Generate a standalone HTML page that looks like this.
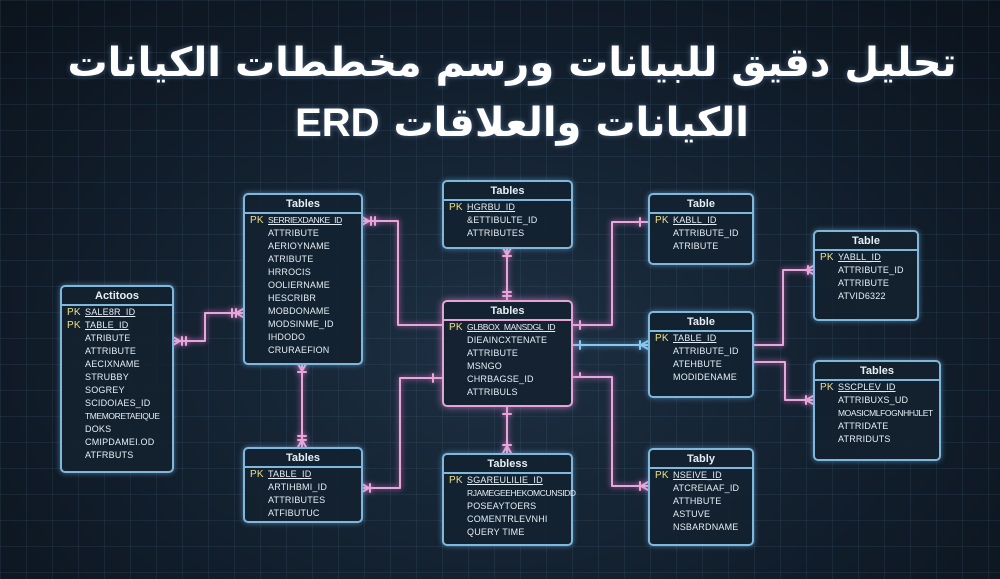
<!DOCTYPE html>
<html><head><meta charset="utf-8"><style>
*{margin:0;padding:0;box-sizing:border-box}
body{width:1000px;height:579px;overflow:hidden;background:#0e1824;position:relative;font-family:"Liberation Sans",sans-serif}
.bg{position:absolute;inset:0;background:
linear-gradient(rgba(90,130,160,.13) 1px,transparent 1px) 0 0/26px 26px,
linear-gradient(90deg,rgba(90,130,160,.13) 1px,transparent 1px) 0 0/26px 26px,
radial-gradient(ellipse at 50% 60%,#1d3044 0%,#111d2a 60%,#0b131c 100%)}
h1{position:absolute;left:0;width:1000px;text-align:center;color:#fff;font-family:"DejaVu Sans",sans-serif;font-weight:bold;font-size:40px;line-height:60px;direction:rtl;white-space:nowrap;text-shadow:0 0 6px rgba(160,200,255,.4)}
.t{position:absolute;border:2px solid #7fb8dd;border-radius:5px;background:rgba(20,34,48,.92);box-shadow:0 0 6px rgba(120,190,240,.55);color:#e6eef5}
.t.p{border-color:#e4a4d6;box-shadow:0 0 8px rgba(230,140,210,.7)}
.h{height:19px;border-bottom:2px solid #7fb8dd;text-align:center;font-weight:bold;font-size:11px;line-height:18px}
.p .h{border-bottom-color:#e4a4d6}
.r{font-size:9px;line-height:13px;padding-left:23px;position:relative;white-space:nowrap;letter-spacing:.2px}
.r:first-of-type{margin-top:4px}
.s{letter-spacing:-.4px;font-size:8.5px}
.k{position:absolute;left:5px;color:#e8e08a;font-size:10px}
.u{text-decoration:underline}
svg{position:absolute;left:0;top:0}
</style></head><body>
<div class="bg"></div>
<h1 style="top:33px;left:12px">تحليل دقيق للبيانات ورسم مخططات الكيانات</h1>
<h1 style="top:93px;left:22px">الكيانات والعلاقات <span dir="ltr" style="font-family:'Liberation Sans',sans-serif">ERD</span></h1>
<svg width="1000" height="579" fill="none" stroke-linecap="round" stroke-linejoin="round">
<g stroke="#e9a6d8" stroke-width="2" style="filter:drop-shadow(0 0 3px #d070c0)">
<path d="M173 341H205V313H243"/>
<path d="M362 221H398V325H442"/>
<path d="M302 364V447"/>
<path d="M442 378H400V488H362"/>
<path d="M507 248V300"/>
<path d="M507 406V453"/>
<path d="M572 325H612V222H648"/>
<path d="M572 377H612V486H648"/>
<path d="M753 345H783V270H813"/>
<path d="M753 362H785V400H813"/>
<path d="M182 337V345M186 337V345M236 309V317M232 309V317M371 217V225M375 217V225M298 372H306M298 440H306M298 436H306M370 484V492M503 256H511M503 292H511M503 296H511M503 414H511M503 445H511M580 321V329M640 218V226M580 373V377M640 482V490M808 266V274M806 396V404M433 374V382M452 321V329"/>
<path d="M173 337L180 341L173 345M243 309L236 313L243 317M362 217L369 221L362 225M298 447L302 440L306 447M362 484L369 488L362 492M503 453L507 446L511 453M648 482L641 486L648 490M813 266L806 270L813 274M813 396L806 400L813 404M298 364L302 371L306 364M503 248L507 255L511 248"/>
</g>
<g stroke="#8cc8ee" stroke-width="2" style="filter:drop-shadow(0 0 3px #5aa8e0)">
<path d="M572 345H648M580 341V349M640 341V349M648 341L641 345L648 349"/>
</g>
</svg>

<div class="t" style="left:60px;top:285px;width:114px;height:188px"><div class="h">Actitoos</div>
<div class="r"><span class="k">PK</span><span class="u">SALE8R_ID</span></div>
<div class="r"><span class="k">PK</span><span class="u">TABLE_ID</span></div>
<div class="r">ATRIBUTE</div><div class="r">ATTRIBUTE</div><div class="r">AECIXNAME</div><div class="r">STRUBBY</div><div class="r">SOGREY</div><div class="r">SCIDOIAES_ID</div><div class="r s">TMEMORETAEIQUE</div><div class="r">DOKS</div><div class="r">CMIPDAMEI.OD</div><div class="r">ATFRBUTS</div></div>

<div class="t" style="left:243px;top:193px;width:120px;height:172px"><div class="h">Tables</div>
<div class="r"><span class="k">PK</span><span class="u s">SERRIEXDANKE_ID</span></div>
<div class="r">ATTRIBUTE</div><div class="r">AERIOYNAME</div><div class="r">ATRIBUTE</div><div class="r">HRROCIS</div><div class="r">OOLIERNAME</div><div class="r">HESCRIBR</div><div class="r">MOBDONAME</div><div class="r">MODSINME_ID</div><div class="r">IHDODO</div><div class="r">CRURAEFION</div></div>

<div class="t" style="left:243px;top:447px;width:120px;height:76px"><div class="h">Tables</div>
<div class="r"><span class="k">PK</span><span class="u">TABLE_ID</span></div>
<div class="r">ARTIHBMI_ID</div><div class="r">ATTRIBUTES</div><div class="r">ATFIBUTUC</div></div>

<div class="t" style="left:442px;top:180px;width:131px;height:69px"><div class="h">Tables</div>
<div class="r"><span class="k">PK</span><span class="u">HGRBU_ID</span></div>
<div class="r">&amp;ETTIBULTE_ID</div><div class="r">ATTRIBUTES</div></div>

<div class="t p" style="left:442px;top:300px;width:131px;height:107px"><div class="h">Tables</div>
<div class="r"><span class="k">PK</span><span class="u s">GLBBOX_MANSDGL_ID</span></div>
<div class="r">DIEAINCXTENATE</div><div class="r">ATTRIBUTE</div><div class="r">MSNGO</div><div class="r">CHRBAGSE_ID</div><div class="r">ATTRIBULS</div></div>

<div class="t" style="left:442px;top:453px;width:131px;height:93px"><div class="h">Tabless</div>
<div class="r"><span class="k">PK</span><span class="u">SGAREULILIE_ID</span></div>
<div class="r s">RJAMEGEEHEKOMCUNSIDD</div><div class="r">POSEAYTOERS</div><div class="r">COMENTRLEVNHI</div><div class="r">QUERY TIME</div></div>

<div class="t" style="left:648px;top:193px;width:106px;height:72px"><div class="h">Table</div>
<div class="r"><span class="k">PK</span><span class="u">KABLL_ID</span></div>
<div class="r">ATTRIBUTE_ID</div><div class="r">ATRIBUTE</div></div>

<div class="t" style="left:648px;top:311px;width:106px;height:87px"><div class="h">Table</div>
<div class="r"><span class="k">PK</span><span class="u">TABLE_ID</span></div>
<div class="r">ATTRIBUTE_ID</div><div class="r">ATEHBUTE</div><div class="r">MODIDENAME</div></div>

<div class="t" style="left:648px;top:448px;width:106px;height:98px"><div class="h">Tably</div>
<div class="r"><span class="k">PK</span><span class="u">NSEIVE_ID</span></div>
<div class="r">ATCREIAAF_ID</div><div class="r">ATTHBUTE</div><div class="r">ASTUVE</div><div class="r">NSBARDNAME</div></div>

<div class="t" style="left:813px;top:230px;width:106px;height:91px"><div class="h">Table</div>
<div class="r"><span class="k">PK</span><span class="u">YABLL_ID</span></div>
<div class="r">ATTRIBUTE_ID</div><div class="r">ATTRIBUTE</div><div class="r">ATVID6322</div></div>

<div class="t" style="left:813px;top:360px;width:128px;height:101px"><div class="h">Tables</div>
<div class="r"><span class="k">PK</span><span class="u">SSCPLEV_ID</span></div>
<div class="r">ATTRIBUXS_UD</div><div class="r s">MOASICMLFOGNHHJLET</div><div class="r">ATTRIDATE</div><div class="r">ATRRIDUTS</div></div>
</body></html>
